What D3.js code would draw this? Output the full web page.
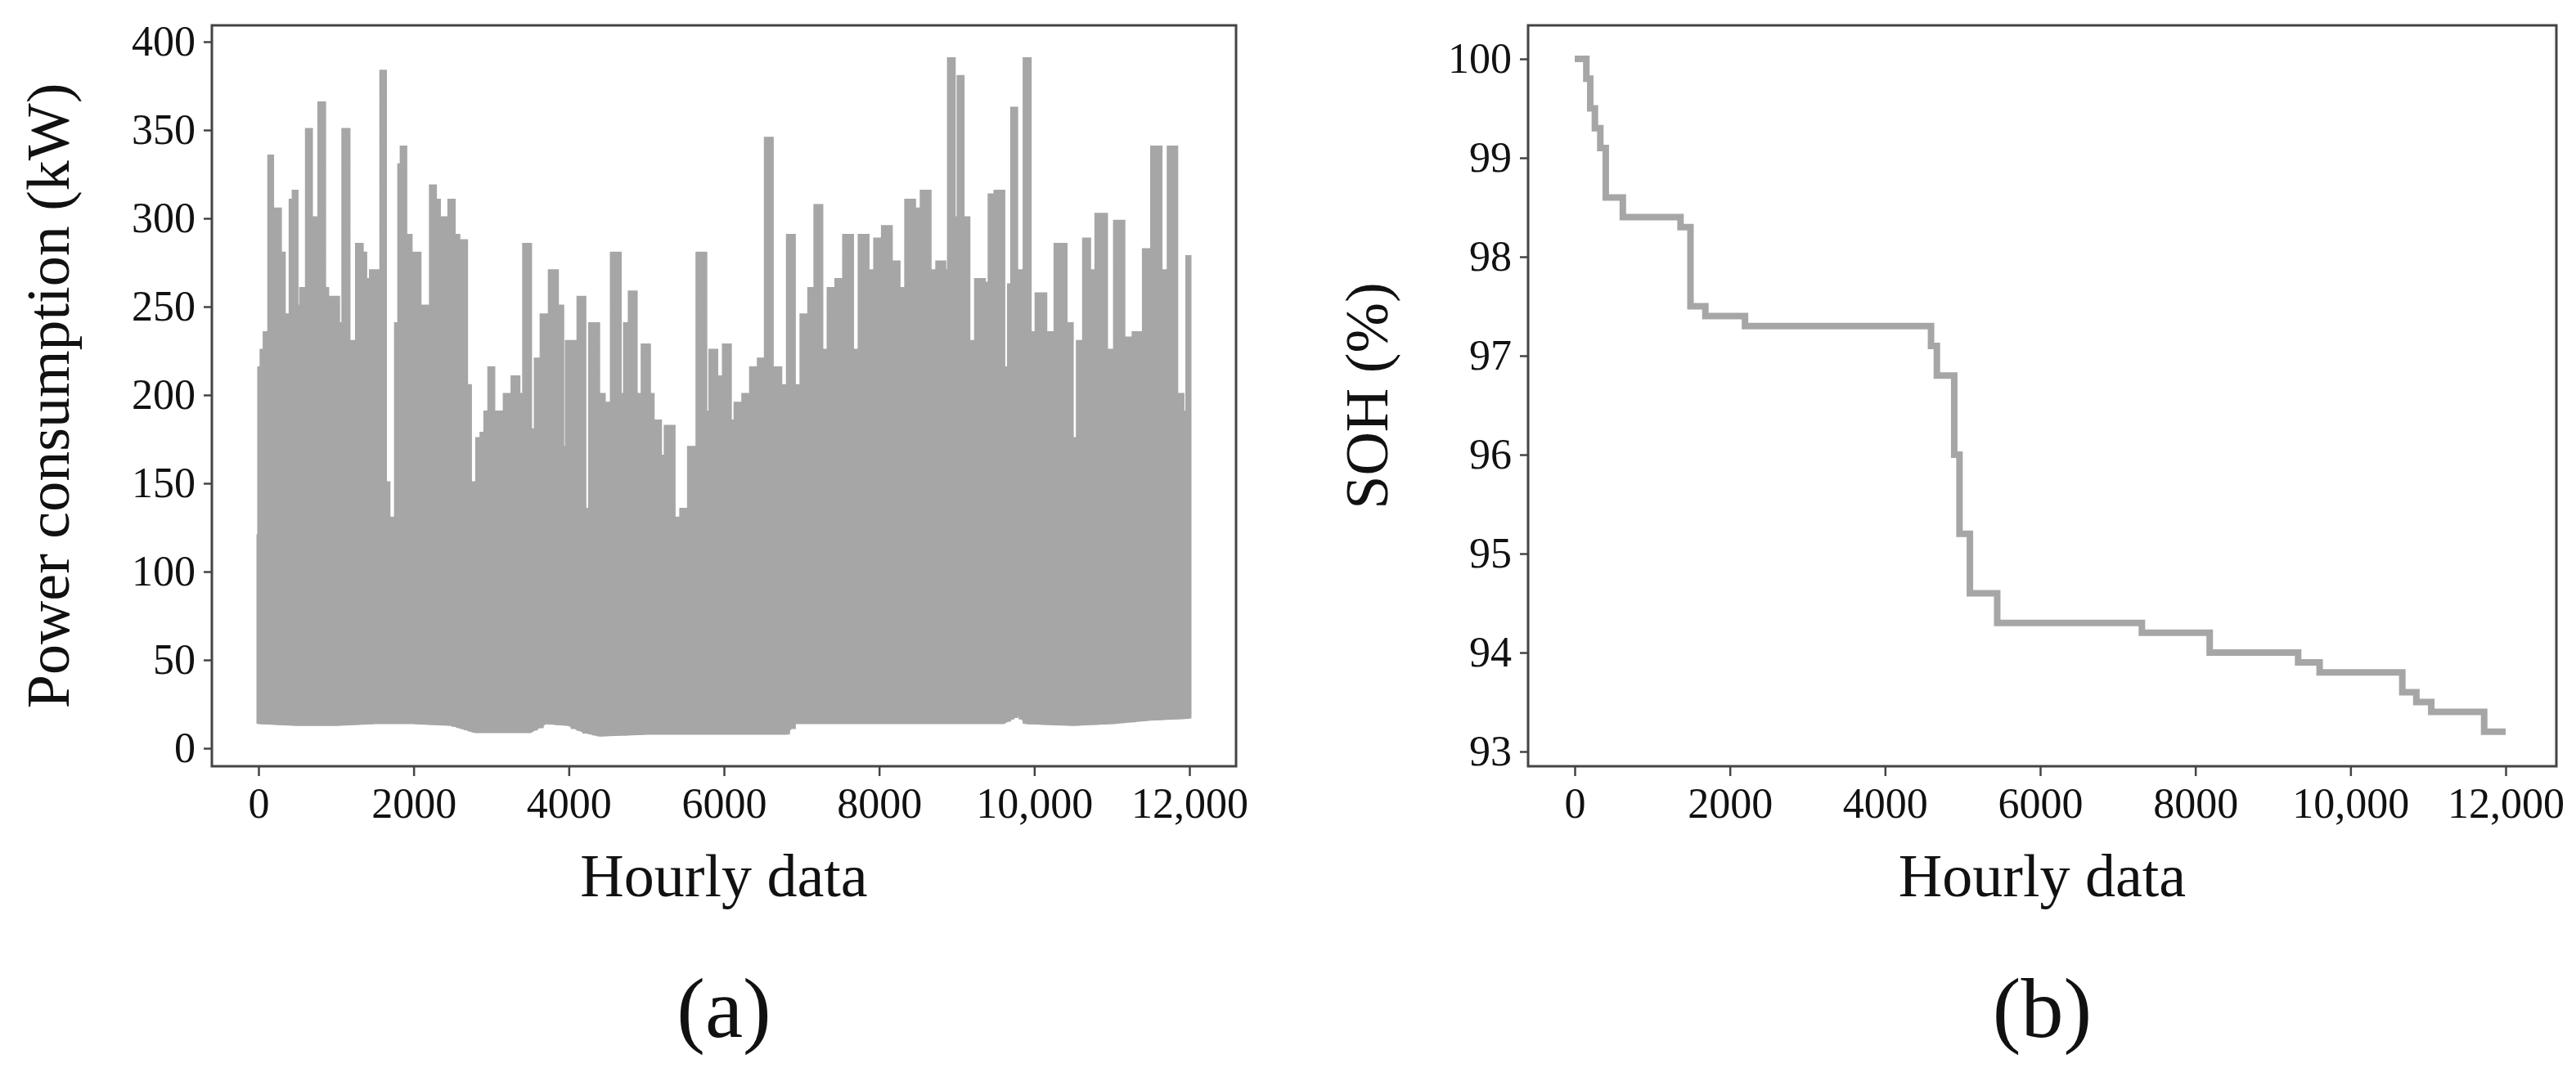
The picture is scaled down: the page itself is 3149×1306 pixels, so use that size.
<!DOCTYPE html>
<html>
<head>
<meta charset="utf-8">
<script src="https://cdn.jsdelivr.net/npm/d3@7"></script>
<style>
  body { margin: 0; background: #fff; }
  text { font-family: 'Liberation Serif', 'Times New Roman', serif; fill: #111; }
</style>
</head>
<body>
<script>
const width = 3149
const height = 1306

// (a) power consumption: upper and lower envelope of the hourly signal
const powerHours = [0, 20, 60, 100, 130, 149, 200, 250, 300, 350, 400, 430, 479, 500, 600, 650, 700, 750, 820, 870, 900, 950, 1000, 1050, 1139, 1180, 1230, 1310, 1350, 1400, 1500, 1560, 1608, 1650, 1700, 1746, 1800, 1830, 1863, 1920, 2000, 2050, 2100, 2150, 2200, 2247, 2300, 2350, 2400, 2440, 2481, 2550, 2600, 2650, 2700, 2750, 2790, 2850, 2900, 2950, 3002, 3050, 3100, 3250, 3300, 3400, 3450, 3550, 3600, 3700, 3812, 3880, 3950, 4000, 4100, 4150, 4250, 4300, 4355, 4400, 4500, 4611, 4700, 4750, 4823, 4900, 5005, 5060, 5100, 5150, 5200, 5300, 5400, 5500, 5600, 5718, 5800, 5850, 5950, 6050, 6100, 6200, 6300, 6400, 6500, 6581, 6650, 6800, 6850, 6950, 7050, 7150, 7209, 7300, 7400, 7500, 7600, 7700, 7800, 7900, 8000, 8100, 8200, 8300, 8400, 8500, 8600, 8700, 8800, 8880, 8922, 9000, 9050, 9100, 9200, 9300, 9400, 9450, 9550, 9650, 9700, 9732, 9800, 9850, 9903, 9977, 10083, 10200, 10349, 10456, 10509, 10616, 10669, 10743, 10860, 10988, 11095, 11201, 11361, 11467, 11574, 11680, 11787, 11872, 11947, 12000]
const powerUpper = [120, 215, 225, 235, 235, 335, 300, 305, 280, 245, 245, 310, 315, 250, 260, 350, 250, 300, 365, 260, 230, 255, 255, 240, 350, 230, 230, 285, 280, 265, 270, 270, 383, 150, 130, 78, 240, 330, 340, 290, 280, 280, 230, 250, 250, 318, 310, 250, 300, 250, 310, 290, 285, 287, 205, 150, 110, 175, 178, 190, 215, 190, 190, 200, 210, 200, 285, 180, 220, 245, 270, 250, 170, 230, 230, 255, 135, 240, 240, 200, 195, 280, 200, 240, 258, 200, 228, 200, 130, 185, 165, 182, 130, 135, 170, 280, 190, 225, 210, 228, 185, 195, 200, 215, 220, 345, 215, 205, 290, 205, 245, 260, 307, 225, 260, 265, 290, 225, 290, 270, 288, 295, 275, 260, 310, 305, 315, 270, 275, 270, 390, 300, 380, 300, 230, 265, 263, 313, 315, 215, 262, 362, 270, 270, 390, 235, 257, 235, 285, 240, 175, 230, 288, 270, 302, 225, 298, 232, 235, 282, 340, 270, 340, 200, 190, 278]
const lowerHours = [0, 500, 1000, 1500, 2000, 2500, 2800, 3000, 3500, 3700, 4000, 4200, 4400, 5000, 5500, 6000, 6500, 6800, 6900, 7500, 8000, 9000, 9600, 9800, 9900, 10500, 11000, 11500, 12000]
const powerLower = [15, 14, 14, 15, 15, 14, 10, 10, 10, 15, 14, 10, 8, 9, 9, 9, 9, 9, 15, 15, 15, 15, 15, 20, 15, 14, 15, 17, 18]

// (b) state of health, stepwise
const sohHours = [0, 117, 150, 200, 260, 330, 400, 620, 1364, 1492, 1524, 1684, 2195, 4593, 4668, 4721, 4892, 4960, 5020, 5094, 5179, 5446, 7311, 8185, 9325, 9602, 10668, 10849, 11041, 11723, 12000]
const sohValues = [100, 100, 99.8, 99.5, 99.3, 99.1, 98.6, 98.4, 98.3, 97.5, 97.5, 97.4, 97.3, 97.1, 96.8, 96.8, 96.0, 95.2, 95.2, 94.6, 94.6, 94.3, 94.2, 94.0, 93.9, 93.8, 93.6, 93.5, 93.4, 93.2, 93.2]

const xTicks = [0, 2000, 4000, 6000, 8000, 10000, 12000]
const xTickLabel = d => d >= 10000 ? d3.format(',')(d) : String(d)
const gray = '#a6a6a6'

const svg = d3.select('body').append('svg')
  .attr('width', width)
  .attr('height', height)

function frame(box, x, y, yTicks, yLabel, yLabelX, caption) {
  const g = svg.append('g')
  g.append('rect')
    .attr('x', box.left).attr('y', box.top)
    .attr('width', box.right - box.left).attr('height', box.bottom - box.top)
    .attr('fill', 'none').attr('stroke', '#444').attr('stroke-width', 3)

  const xAxis = g.append('g')
    .attr('transform', `translate(0,${box.bottom})`)
    .call(d3.axisBottom(x).tickValues(xTicks).tickFormat(xTickLabel).tickSize(12).tickPadding(14))
  const yAxis = g.append('g')
    .attr('transform', `translate(${box.left},0)`)
    .call(d3.axisLeft(y).tickValues(yTicks).tickFormat(d3.format('d')).tickSize(10).tickPadding(10))
  ;[xAxis, yAxis].forEach(a => {
    a.select('.domain').remove()
    a.selectAll('line').attr('stroke', '#444').attr('stroke-width', 2.5)
    a.selectAll('text').attr('font-size', 52).attr('font-family', 'Liberation Serif')
  })
  xAxis.selectAll('text').attr('dy', '0.71em')

  const cx = (box.left + box.right) / 2
  g.append('text').attr('x', cx).attr('y', 1070).attr('dy', '0.35em')
    .attr('text-anchor', 'middle').attr('font-size', 74).text('Hourly data')
  g.append('text').attr('x', cx).attr('y', 1232).attr('dy', '0.35em')
    .attr('text-anchor', 'middle').attr('font-size', 104).text(caption)
  g.append('text')
    .attr('transform', `translate(${yLabelX},${(box.top + box.bottom) / 2}) rotate(-90)`)
    .attr('dy', '0.35em').attr('text-anchor', 'middle').attr('font-size', 74).text(yLabel)
  return g
}

// panel (a)
const boxA = { left: 259, right: 1511, top: 31, bottom: 937 }
const xA = d3.scaleLinear().domain([0, 12000]).range([316, 1454])
const yA = d3.scaleLinear().domain([0, 400]).range([915, 51])
const gA = frame(boxA, xA, yA, d3.range(0, 401, 50), 'Power consumption (kW)', 58, '(a)')

const lowerAt = d3.scaleLinear().domain(lowerHours).range(powerLower)
const powerRows = powerHours.map((h, i) => ({ h, hi: powerUpper[i], lo: lowerAt(h) }))
gA.insert('path', ':first-child')
  .datum(powerRows)
  .attr('fill', gray)
  .attr('stroke', gray)
  .attr('stroke-width', 5)
  .attr('d', d3.area().x(d => xA(d.h)).y0(d => yA(d.lo)).y1(d => yA(d.hi)).curve(d3.curveStep))
gA.append('path')
  .datum(lowerHours.map((h, i) => [h, powerLower[i]]))
  .attr('fill', 'none').attr('stroke', gray).attr('stroke-width', 6)
  .attr('d', d3.line().x(d => xA(d[0])).y(d => yA(d[1])))

// panel (b)
const boxB = { left: 1868, right: 3125, top: 31, bottom: 937 }
const xB = d3.scaleLinear().domain([0, 12000]).range([1925, 3063])
const yB = d3.scaleLinear().domain([93, 100]).range([919, 72])
const gB = frame(boxB, xB, yB, d3.range(93, 101), 'SOH (%)', 1670, '(b)')

gB.append('path')
  .datum(sohHours.map((h, i) => [h, sohValues[i]]))
  .attr('fill', 'none')
  .attr('stroke', gray)
  .attr('stroke-width', 8)
  .attr('d', d3.line().x(d => xB(d[0])).y(d => yB(d[1])).curve(d3.curveStepAfter))
</script>
</body>
</html>
